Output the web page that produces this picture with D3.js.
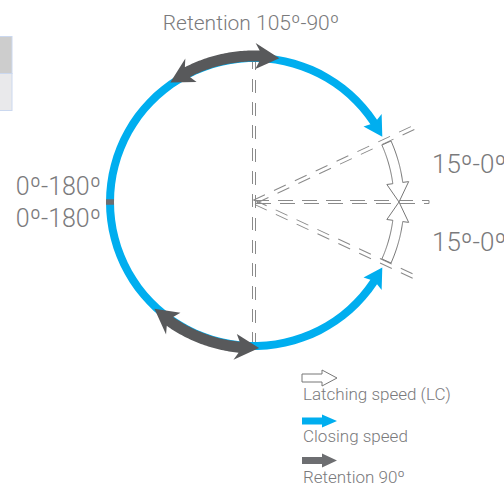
<!DOCTYPE html>
<html><head><meta charset="utf-8">
<script src="https://cdn.jsdelivr.net/npm/d3@7"></script>
<style>
html,body{margin:0;padding:0;background:#fff;}
svg{display:block;font-family:Roboto,"Open Sans",sans-serif;font-weight:300;}
</style></head>
<body>
<svg id="c" width="504" height="486"></svg>
<script>
// ---- data (angles in degrees, clockwise from 12 o'clock) ----
const titleLabel = "Retention 105º-90º";
const openLabels = ["0º-180º", "0º-180º"];
const latchLabels = ["15º-0º", "15º-0º"];
const legendLabels = ["Latching speed (LC)", "Closing speed", "Retention 90º"];
const closingArcs = [[-90, 63], [270, 117]];      // blue closing ranges, arrow at end
const retentionArcs = [[-35, 10], [223, 178]];    // grey retention ranges, two heads
const latchingArcs = [[66, 90], [114, 90]];       // hollow latching arrows
const guideAngles = [0, 65, 90, 115];             // dashed reference rays
const openMark = 270;                             // 0º-180º position

const svg = d3.select("#c");
const cx = 254, cy = 202, R = 144;
const BLUE = "#00aeef", GREY = "#58595b", TXT = "#7a7a7c", GUIDE = "#8a8a8a";
const rad = d3.scaleLinear().domain([0, 360]).range([0, 2 * Math.PI]);
const pt = (r, deg) => [cx + r * Math.sin(rad(deg)), cy - r * Math.cos(rad(deg))];

// curved arrow outline
function arrowPts(r, a0, a1, o) {
  const s = Math.sign(a1 - a0);
  const dh = (o.headLen / r) * 180 / Math.PI;
  const nb = (o.notch / r) * 180 / Math.PI;
  const s0 = o.headStart ? a0 + s * dh : a0;
  const s1 = o.headEnd ? a1 - s * dh : a1;
  const hw = o.headW / 2, sw = o.shaftW / 2;
  const P = [];
  const N = 40;
  if (o.headStart) {
    P.push(pt(r, a0));
    P.push(pt(r + hw, s0 + s * nb));
  }
  for (let i = 0; i <= N; i++) P.push(pt(r + sw, s0 + (s1 - s0) * i / N));
  if (o.headEnd) {
    P.push(pt(r + hw, s1 - s * nb));
    P.push(pt(r, a1));
    P.push(pt(r - hw, s1 - s * nb));
  }
  for (let i = N; i >= 0; i--) P.push(pt(r - sw, s0 + (s1 - s0) * i / N));
  if (o.headStart) P.push(pt(r - hw, s0 + s * nb));
  return P;
}
const line = d3.line().curve(d3.curveLinearClosed);

// top-left fragment box
svg.append("rect").attr("x", -1).attr("y", 36.5).attr("width", 13).attr("height", 37).attr("fill", "#cdcdcd").attr("stroke", "#cbd8ef");
svg.append("rect").attr("x", -1).attr("y", 73.5).attr("width", 13).attr("height", 37).attr("fill", "#e9e9eb").attr("stroke", "#cbd8ef");

// dashed guides
const guides = svg.append("g").attr("fill", "none").attr("stroke", GUIDE).attr("stroke-width", 1);
guideAngles.forEach(a => {
  let x0 = 0, L = 178, w = 4;
  if (a === 0) { x0 = -143; L = 149; w = 3; }
  if (a === 90) { L = 175; w = 3; }
  guides.append("rect")
    .attr("x", x0).attr("y", -w / 2).attr("width", L - x0).attr("height", w)
    .attr("transform", `translate(${cx},${cy}) rotate(${a - 90})`)
    .attr("stroke-dasharray", a === 90 ? "15,9" : "13,10");
});

// blue closing ring with arrowheads
closingArcs.forEach(([a0, a1]) => {
  svg.append("path").attr("d", line(arrowPts(R, a0, a1, {headEnd: true, headLen: 17, headW: 22, shaftW: 8, notch: 2})))
    .attr("fill", BLUE);
});
// open position mark
svg.append("path").attr("d", d3.arc().innerRadius(R - 4).outerRadius(R + 4)
  .startAngle(rad(openMark - 1.1)).endAngle(rad(openMark + 1.1))()).attr("transform", `translate(${cx},${cy})`).attr("fill", "#6d6e71");

// grey retention arrows
retentionArcs.forEach(([a0, a1]) => {
  svg.append("path").attr("d", line(arrowPts(R + 2, a0, a1, {headStart: true, headEnd: true, headLen: 20, headW: 26, shaftW: 11, notch: 4})))
    .attr("fill", GREY);
});

// hollow latching arrows
latchingArcs.forEach(([a0, a1]) => {
  svg.append("path").attr("d", line(arrowPts(R + 1, a0, a1, {headEnd: true, headLen: 19, headW: 22, shaftW: 10, notch: 0})))
    .attr("fill", "#fff").attr("stroke", "#777").attr("stroke-width", 1);
});

// texts
svg.append("text").attr("x", 251).attr("y", 30).attr("text-anchor", "middle")
  .attr("font-size", 21).attr("fill", TXT).text(titleLabel);
openLabels.forEach((t, i) => svg.append("text").attr("x", 101).attr("y", 195 + i * 32)
  .attr("text-anchor", "end").attr("font-size", 25).attr("fill", TXT).text(t));
latchLabels.forEach((t, i) => svg.append("text").attr("x", 432).attr("y", 173 + i * 78)
  .attr("font-size", 26).attr("fill", TXT).text(t));

// legend
const lg = svg.append("g").attr("transform", "translate(302,370)");
const legArrow = (y, fill, stroke, sh, hh) => {
  const p = [[0, y - sh / 2], [20, y - sh / 2], [20, y - hh / 2], [35, y], [20, y + hh / 2], [20, y + sh / 2], [0, y + sh / 2]];
  lg.append("path").attr("d", line(p)).attr("fill", fill).attr("stroke", stroke);
};
legArrow(8, "#fff", "#777", 8, 16);
legArrow(51, BLUE, "none", 7, 13);
legArrow(90.5, "#6d6e71", "none", 7, 14);
legendLabels.forEach((t, i) => lg.append("text").attr("x", 1).attr("y", 30 + i * 41.5)
  .attr("font-size", 17).attr("fill", TXT).text(t));
</script>
</body></html>
